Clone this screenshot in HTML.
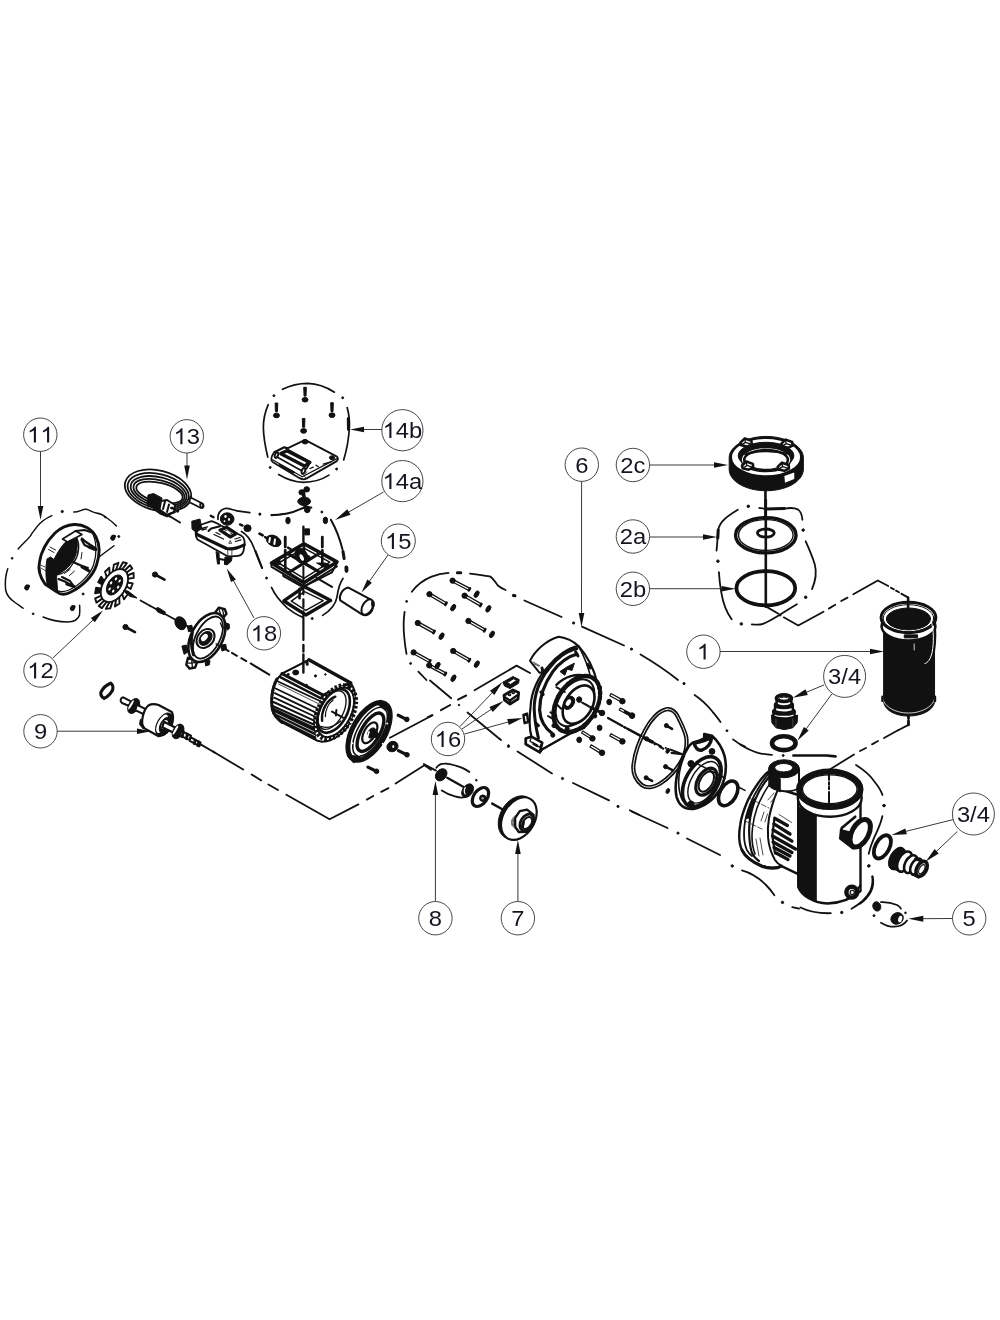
<!DOCTYPE html>
<html><head><meta charset="utf-8"><title>Pump exploded parts diagram</title>
<style>
html,body{margin:0;padding:0;background:#fff;}
body{width:1000px;height:1320px;overflow:hidden;font-family:"Liberation Sans",sans-serif;}
svg{display:block;will-change:transform;}
svg *{vector-effect:non-scaling-stroke;}
.ld{stroke:#222;stroke-width:0.9;fill:none;}
.ah{fill:#111;stroke:none;}
.lc{fill:#fff;stroke:#333;stroke-width:0.9;}
.lt{font-family:"Liberation Sans",sans-serif;fill:#15151f;text-anchor:start;}
.lg{fill:#15151f;stroke:none;}
.k{stroke:#111;fill:none;stroke-width:1.3;stroke-linecap:round;stroke-linejoin:round;}
.k2{stroke:#111;fill:none;stroke-width:2;stroke-linecap:round;stroke-linejoin:round;}
.k3{stroke:#111;fill:none;stroke-width:3;stroke-linecap:round;stroke-linejoin:round;}
.t{stroke:#222;fill:none;stroke-width:0.8;stroke-linecap:round;stroke-linejoin:round;}
.w{stroke:#111;fill:#fff;stroke-width:1.3;stroke-linejoin:round;}
.w2{stroke:#111;fill:#fff;stroke-width:2;stroke-linejoin:round;}
.b{fill:#111;stroke:#111;stroke-width:1;stroke-linejoin:round;}
.d{stroke:#111;fill:none;stroke-width:1.6;stroke-linecap:butt;}
.g{stroke:#666;fill:none;stroke-width:1;}
</style></head>
<body>
<svg width="1000" height="1320" viewBox="0 0 1000 1320">
<rect width="1000" height="1320" fill="#fff"/>
<!-- 09_rotor.py -->
<g transform="translate(95 670) scale(0.12000)"><path d="M130 110 C150 122 152 150 146 168 C128 200 100 225 76 236 C52 224 46 200 50 184 C66 150 100 122 130 110 Z" class="w" style="stroke-width:3.2"/><path d="M235 228 L300 262 L285 300 L225 275 C205 260 212 232 235 228 Z" class="w" style="stroke-width:2"/><ellipse cx="322" cy="300" rx="68" ry="42" transform="rotate(-60 322 300)" class="b" /><ellipse cx="300" cy="290" rx="44" ry="9" transform="rotate(-60 300 290)" class="w" style="stroke:none"/><ellipse cx="345" cy="310" rx="40" ry="22" transform="rotate(-60 345 310)" class="b" /><path d="M350 290 L440 335 L420 375 L335 335 Z" class="w" style="stroke-width:2"/><path d="M445 296 C470 282 505 284 530 292 L640 350 C665 400 640 470 600 520 L530 552 L405 482 C378 440 400 335 445 296 Z" class="w" style="stroke-width:2.2"/><path d="M385 420 L380 450 L405 480" class="k3" /><ellipse cx="578" cy="455" rx="105" ry="62" transform="rotate(-62 578 455)" class="b" /><ellipse cx="560" cy="448" rx="84" ry="36" transform="rotate(-62 560 448)" class="w" style="stroke:none"/><ellipse cx="585" cy="460" rx="72" ry="40" transform="rotate(-62 585 460)" class="b" /><ellipse cx="580" cy="455" rx="40" ry="22" transform="rotate(-62 580 455)" class="w" style="stroke:none"/><path d="M575 432 L680 485 L660 525 L560 478 Z" class="w" style="stroke-width:2.2"/><ellipse cx="692" cy="512" rx="66" ry="42" transform="rotate(-60 692 512)" class="b" /><ellipse cx="670" cy="502" rx="44" ry="9" transform="rotate(-60 670 502)" class="w" style="stroke:none"/><ellipse cx="712" cy="520" rx="38" ry="22" transform="rotate(-60 712 520)" class="b" /><path d="M715 505 L800 548 L790 585 L705 545 Z" class="w" style="stroke-width:2"/><path d="M735 520 L725 555 M770 535 L762 572" class="k3" style="stroke-width:3"/><path d="M795 560 L880 605 L870 635 L790 590 Z" class="w" style="stroke-width:2"/><path d="M835 585 L828 612 M865 600 L858 630" class="k3" style="stroke-width:3"/><path d="M880 620 L1000 690" class="k" style="stroke-width:1.8"/></g>
<!-- 10_fancover.py -->
<g transform="translate(30 515) scale(0.10000)"><path d="M440 95 C530 90 620 140 660 220 C700 300 700 400 665 500 C630 610 520 720 400 775 C350 798 300 795 270 770 L150 690 C100 620 80 540 95 470 C110 370 160 270 250 180 C310 125 380 98 440 95 Z" class="w2" style="stroke-width:2.9"/><path d="M350 275 L470 235 C480 300 470 380 440 440 C400 520 330 570 265 600 L275 755 L170 690 C155 600 155 520 170 440 L205 420 L240 445 C270 380 310 320 350 275 Z" class="b" /><path d="M325 240 L455 160 L520 195 L375 270 Z" class="w" style="stroke-width:1.6"/><path d="M455 160 L545 150 L620 175" class="k2" /><path d="M620 175 C670 260 670 400 635 500 C600 600 500 700 390 750 C340 770 300 770 275 755" class="k" /><path d="M470 235 C500 300 490 400 440 470 M440 470 C400 540 340 590 265 600" class="k" /><path d="M515 245 L545 300 L640 345 M520 235 L560 270 L650 330" class="k2" style="stroke-width:2.2"/><path d="M590 320 L660 345" class="k3" /><path d="M430 470 L500 500 L590 555 M470 490 L580 530" class="k2" /><path d="M520 520 L590 560" class="k3" /><path d="M285 640 L360 670 L440 715 M320 620 L400 660 L430 700" class="k2" /><path d="M370 690 L440 715" class="k3" style="stroke-width:3.4"/><path d="M185 345 L240 375 M200 320 L255 350 M480 350 L470 400 M520 375 L510 440 M345 585 L400 545 M395 605 L445 560" class="t" style="stroke-width:1"/><path d="M110 530 L160 560 M105 500 L150 520" class="t" /></g>
<!-- 11_phantom11.py -->
<g transform="translate(0 500) scale(0.12500)"><path d="M145 392 C170 360 215 325 245 285 C255 262 275 245 295 215 C325 175 370 145 415 125" class="k" style="stroke-width:1.5"/><path d="M590 96 C630 100 655 72 690 74 C720 80 740 100 770 104 C800 108 830 122 850 140 C880 160 905 180 932 208" class="k" style="stroke-width:1.5"/><path d="M800 450 L912 366" class="k" style="stroke-width:1.5"/><path d="M62 550 C45 600 38 660 45 720 C55 770 90 800 120 820 C145 838 165 850 185 866" class="k" style="stroke-width:1.5"/><path d="M345 936 C400 960 470 975 540 976 C590 975 625 960 636 920 C640 890 638 860 637 842" class="k" style="stroke-width:1.5"/><circle cx="498" cy="92" r="9" class="b"/><circle cx="97" cy="466" r="7" class="b"/><circle cx="265" cy="910" r="7" class="b"/><circle cx="665" cy="752" r="8" class="b"/><circle cx="950" cy="292" r="8" class="b"/><circle cx="843" cy="137" r="6" class="b"/><ellipse cx="215" cy="700" rx="17" ry="21" class="b" transform="rotate(20 215 700)"/><circle cx="229" cy="688" r="8" class="b"/><ellipse cx="580" cy="865" rx="17" ry="21" class="b" transform="rotate(20 580 865)"/><circle cx="594" cy="853" r="8" class="b"/><ellipse cx="903" cy="302" rx="17" ry="21" class="b" transform="rotate(20 903 302)"/><circle cx="917" cy="290" r="8" class="b"/></g>
<!-- 12_fan.py -->
<polygon points="124.4,570.8 130.1,565.2 132.3,568.5 126.2,572.8" class="w" style="stroke-width:1.9"/><polygon points="127.4,575.5 133.6,572.9 133.7,577.9 127.8,578.8" class="w" style="stroke-width:1.9"/><polygon points="127.4,582.5 132.7,583.4 130.6,589.0 126.3,586.3" class="w" style="stroke-width:1.9"/><polygon points="124.4,590.2 127.6,594.5 123.9,599.3 122.1,593.7" class="w" style="stroke-width:1.9"/><polygon points="119.2,596.8 119.5,603.5 114.9,606.5 116.1,599.3" class="w" style="stroke-width:1.9"/><polygon points="112.8,600.9 110.2,608.4 105.8,608.9 109.7,601.7" class="w" style="stroke-width:1.9"/><polygon points="106.8,601.5 101.9,608.1 98.7,606.0 104.4,600.4" class="w" style="stroke-width:1.9"/><polygon points="102.6,598.4 96.4,602.6 95.2,598.4 101.4,595.7" class="w" style="stroke-width:1.9"/><polygon points="101.0,592.4 95.1,593.3 96.1,587.8 101.4,588.7" class="b" style="stroke-width:1.9"/><polygon points="102.5,584.8 98.2,582.2 101.2,576.8 104.3,581.0" class="b" style="stroke-width:1.9"/><polygon points="106.8,577.4 105.0,571.8 109.3,567.7 109.6,574.4" class="w" style="stroke-width:1.9"/><polygon points="112.7,571.9 113.9,564.6 118.5,562.8 115.9,570.3" class="w" style="stroke-width:1.9"/><polygon points="119.1,569.5 123.0,562.3 126.9,563.1 121.9,569.7" class="w" style="stroke-width:1.9"/><ellipse cx="114.4" cy="585.6" rx="18.2" ry="11.2" transform="rotate(-57 114.4 585.6)" class="w2" style="stroke-width:1.8"/><ellipse cx="114.60000000000001" cy="585.0" rx="11.2" ry="6.6" transform="rotate(-57 114.60000000000001 585.0)" class="b" /><ellipse cx="119.6" cy="581.0" rx="1.7" ry="1.0" transform="rotate(-57 119.6 581.0)" fill="#fff"/><ellipse cx="118.1" cy="587.1" rx="1.7" ry="1.0" transform="rotate(-57 118.1 587.1)" fill="#fff"/><ellipse cx="113.2" cy="591.1" rx="1.7" ry="1.0" transform="rotate(-57 113.2 591.1)" fill="#fff"/><ellipse cx="109.6" cy="589.0" rx="1.7" ry="1.0" transform="rotate(-57 109.6 589.0)" fill="#fff"/><ellipse cx="111.1" cy="582.9" rx="1.7" ry="1.0" transform="rotate(-57 111.1 582.9)" fill="#fff"/><ellipse cx="116.0" cy="578.9" rx="1.7" ry="1.0" transform="rotate(-57 116.0 578.9)" fill="#fff"/><path d="M123.5 590.5 L128 591 L137 598 L130 596.5 Z" class="b" />
<!-- 13_cord.py -->
<g transform="translate(115 465) scale(0.10000)"><ellipse cx="430" cy="255" rx="338" ry="200" transform="rotate(14 430 255)" class="k" style="stroke-width:1.8"/><ellipse cx="432" cy="262" rx="312" ry="172" transform="rotate(14 432 262)" class="k" style="stroke-width:1.8"/><ellipse cx="436" cy="268" rx="286" ry="146" transform="rotate(14 436 268)" class="k" style="stroke-width:1.8"/><ellipse cx="440" cy="272" rx="262" ry="120" transform="rotate(14 440 272)" class="k" style="stroke-width:1.8"/><ellipse cx="445" cy="275" rx="238" ry="96" transform="rotate(14 445 275)" class="k" style="stroke-width:1.8"/><path d="M752 322 L870 382 C895 395 885 435 855 428 L745 372 Z" class="w" style="stroke-width:1.8"/><ellipse cx="868" cy="406" rx="14" ry="24" transform="rotate(-20 868 406)" class="k" style="stroke-width:1.8"/><path d="M330 300 L385 285 L470 330 L450 440 L395 440 L320 395 Z" class="b" /><path d="M460 360 L520 350 L600 400 L590 470 L520 500 L445 445 Z" class="w" style="stroke-width:2"/><path d="M500 365 L480 440 M540 395 L520 470 M560 430 L600 440 M520 500 L600 470" class="k2" /><path d="M430 440 L520 500 L560 520 L650 575" class="k2" /><path d="M395 440 L450 480 L520 510" class="k2" style="stroke-width:2.6"/><circle cx="625" cy="460" r="13" class="b"/><circle cx="570" cy="430" r="10" class="b"/></g>
<!-- 14a_box.py -->
<g transform="translate(255 470) scale(0.11000)"><ellipse cx="470" cy="176" rx="26" ry="24" class="b"/><ellipse cx="425" cy="203" rx="26" ry="24" class="b"/><ellipse cx="447" cy="285" rx="58" ry="38" class="b"/><ellipse cx="475" cy="358" rx="26" ry="30" class="b"/><path d="M440 200 L455 330" class="k3" style="stroke-width:3.5"/><path d="M150 410 C230 408 330 395 400 360 C430 342 470 338 512 342" class="k" style="stroke-width:2"/><circle cx="45" cy="402" r="9" class="b"/><circle cx="608" cy="382" r="9" class="b"/><ellipse cx="300" cy="460" rx="20" ry="30" class="b"/><ellipse cx="640" cy="458" rx="20" ry="30" class="b"/><path d="M690 452 C740 540 775 640 795 720" class="k" style="stroke-width:2"/><path d="M800 740 L810 805" class="k3" /><path d="M830 885 L832 915" class="k3" style="stroke-width:3.5"/><path d="M440 515 L440 650" class="k2" style="stroke-width:2.4"/><path d="M452 535 L495 535 L495 590 L452 590 Z" class="b" /><path d="M275 610 L275 700 M275 730 L275 765 M612 610 L612 700 M612 730 L612 765" class="k3" style="stroke-width:2.8"/><ellipse cx="178" cy="648" rx="62" ry="42" class="b" transform="rotate(28 178 648)"/><path d="M150 625 L143 660 M195 640 L190 680" class="k" style="stroke:#fff;stroke-width:2"/><path d="M40 580 L70 596 M92 610 L110 620 M300 706 L326 720" class="k2" style="stroke-width:2.4"/><path d="M5 735 L65 890" class="k" style="stroke-width:1.8"/></g>
<g transform="translate(255 530) scale(0.11000)"><path d="M150 300 L150 335 L440 505 L470 500 L700 385 L745 300 L745 290 L445 125 Z" class="w" style="stroke-width:2"/><path d="M445 480 L440 505 M470 500 L745 330 M255 395 L258 420 L420 510" class="k2" /><path d="M445 125 L745 290 L445 480 L150 300 Z" class="k3" style="stroke-width:3.6"/><path d="M445 165 L680 292 L445 440 L215 300 Z" class="k" style="stroke-width:1.6"/><path d="M300 215 L590 385 M590 210 L300 390" class="k3" style="stroke-width:3"/><path d="M370 255 L520 345 M520 250 L370 350" class="k2" /><path d="M445 125 L445 200 M275 230 L275 360 M612 230 L612 330" class="k3" style="stroke-width:2.6"/><ellipse cx="420" cy="235" rx="55" ry="70" class="b" transform="rotate(-25 420 235)"/><ellipse cx="425" cy="250" rx="16" ry="32" fill="#fff" transform="rotate(-25 425 250)"/><path d="M470 225 L500 240 L495 275 L465 270 Z" class="b" /><path d="M560 300 L640 300 L700 330 L640 345 Z" class="b" /><path d="M165 290 L225 270 L230 310 L185 320 Z" class="b" /><path d="M560 435 L700 517" class="k2" /><path d="M440 330 L440 470" class="k2" /><path d="M450 515 L688 640 L462 772 L262 645 Z" class="w" style="stroke-width:3.4"/><path d="M450 560 L620 642 L462 730 L330 646 Z" class="k" style="stroke-width:1.4"/><path d="M440 540 L440 585 M440 630 L440 700 M440 740 L440 1000" class="k2" style="stroke-width:2.2"/><path d="M405 535 L405 620" class="k3" style="stroke-width:2.6"/><path d="M150 522 C180 590 230 650 290 705 C340 745 390 775 432 792" class="k" style="stroke-width:1.7"/><path d="M800 440 C770 480 755 540 745 610 C735 670 705 720 615 776" class="k" style="stroke-width:1.7"/><circle cx="520" cy="805" r="9" class="b"/><circle cx="105" cy="437" r="9" class="b"/><path d="M832 340 L832 372" class="k3" style="stroke-width:3.5"/></g>
<!-- 14b_lid.py -->
<g transform="translate(255 375) scale(0.11000)"><path d="M250 130 C320 95 400 76 480 76 C560 78 650 110 722 156" class="k" style="stroke-width:1.7"/><path d="M120 270 C90 340 75 410 76 480 C78 570 95 660 116 746" class="k" style="stroke-width:1.7"/><path d="M838 296 C855 360 862 420 858 480 C852 580 835 680 806 772" class="k" style="stroke-width:1.7"/><path d="M215 905 C290 950 370 975 440 976 C520 975 610 950 672 910" class="k" style="stroke-width:1.7"/><path d="M848 395 L850 495" class="k3" /><circle cx="172" cy="188" r="9" class="b"/><circle cx="797" cy="207" r="9" class="b"/><circle cx="138" cy="840" r="9" class="b"/><circle cx="742" cy="855" r="9" class="b"/><path d="M443 112 L467 112 L464 192 L446 192 Z" class="b" /><ellipse cx="455" cy="225" rx="27" ry="21" class="b"/><path d="M183 255 L207 255 L204 335 L186 335 Z" class="b" /><ellipse cx="195" cy="368" rx="27" ry="21" class="b"/><path d="M688 252 L712 252 L709 332 L691 332 Z" class="b" /><ellipse cx="700" cy="365" rx="27" ry="21" class="b"/><path d="M430 395 L454 395 L451 475 L433 475 Z" class="b" /><ellipse cx="442" cy="508" rx="27" ry="21" class="b"/><path d="M455 590 L745 742 C760 755 755 775 740 785 L470 940 C450 952 430 950 410 940 L160 790 C140 775 145 745 175 700 L265 655 L300 665 Z" class="w" style="stroke-width:1.8"/><path d="M160 770 L430 925 L745 760" class="k" /><ellipse cx="455" cy="607" rx="26" ry="20" class="b"/><ellipse cx="700" cy="752" rx="24" ry="17" class="b"/><path d="M185 700 L268 660 L505 790 L470 850 L440 880 L200 745 Z" class="w" style="stroke-width:1.6"/><path d="M235 715 L290 688 L498 795 L450 828 Z" class="w" style="stroke-width:3.4"/><ellipse cx="195" cy="728" rx="14" ry="26" transform="rotate(20 195 728)" class="w" style="stroke-width:2"/><ellipse cx="440" cy="872" rx="15" ry="28" transform="rotate(20 440 872)" class="w" style="stroke-width:2"/><path d="M225 820 L350 885" class="k2" style="stroke-width:2.4"/><path d="M500 850 L530 838 M555 820 L575 835 M620 810 L690 790" class="k" /><path d="M440 905 L460 935 M470 880 L455 905" class="t" /></g>
<!-- 15_cap.py -->
<g transform="translate(330 560) scale(0.08000)"><path d="M230 345 L505 492 C560 530 545 640 480 680 C450 695 420 690 400 680 L128 505 C110 450 150 360 230 345 Z" class="w" style="stroke-width:2"/><ellipse cx="468" cy="588" rx="105" ry="62" transform="rotate(-60 468 588)" class="w" style="stroke-width:2"/><path d="M535 530 L538 570" class="k3" style="stroke-width:3.5"/></g>
<!-- 18_controller.py -->
<g transform="translate(185 495) scale(0.10000)"><path d="M330 245 C325 190 350 150 400 135 C440 128 470 150 520 158 L648 176" class="k" style="stroke-width:1.7"/><ellipse cx="422" cy="240" rx="68" ry="62" class="b"/><ellipse cx="405" cy="215" rx="12" ry="14" fill="#fff"/><ellipse cx="440" cy="245" rx="10" ry="14" fill="#fff"/><ellipse cx="395" cy="262" rx="9" ry="9" fill="#fff"/><path d="M150 300 L265 262 C300 270 320 285 350 300 L560 405 C590 420 598 450 596 490 L585 560 C575 600 545 612 500 612 L430 615 L125 445 C108 420 105 390 108 365 Z" class="w" style="stroke-width:1.8"/><path d="M68 262 L150 240 L168 338 L110 372 L70 340 Z" class="b" /><path d="M115 392 L415 535 C470 545 540 525 592 498" class="k3" style="stroke-width:3.2"/><path d="M150 300 C135 320 125 350 118 380" class="k" /><path d="M425 540 L430 612 M470 535 L468 600" class="t" /><path d="M350 352 L418 322 L512 386 L452 420 Z" class="w" style="stroke-width:3.2"/><path d="M395 362 L425 350 L470 382 L445 395 Z" class="t" /><path d="M235 360 L262 335 L350 312" class="k2" /><path d="M165 335 L225 318 M170 350 L215 338 M290 395 L385 440 M310 375 L350 395 M500 440 L550 425 M505 465 L560 448" class="k" /><path d="M440 480 L452 455 L465 480 Z" class="t" /><path d="M310 565 L340 580 L345 690 L325 690 Z M400 620 L470 625 L465 660 L420 700 L395 690 Z" class="b" /><path d="M345 640 L400 650 L400 690" class="k2" /><ellipse cx="625" cy="332" rx="36" ry="34" class="b"/><ellipse cx="885" cy="458" rx="75" ry="52" class="b" transform="rotate(25 885 458)"/><path d="M850 430 L842 470 M900 445 L893 490" class="k" style="stroke:#fff;stroke-width:2"/><path d="M258 207 L285 222 M550 294 L575 306 M748 387 L775 400" class="k2" style="stroke-width:2.4"/><circle cx="748" cy="190" r="9" class="b"/><path d="M865 205 L1000 188" class="k" style="stroke-width:1.7"/><path d="M565 365 C630 400 660 450 690 530 C715 600 745 670 770 732" class="k" style="stroke-width:1.7"/></g>
<!-- 20_endbell.py -->
<g transform="translate(150 590) scale(0.11000)"><path d="M0 143 L240 275" class="k" style="stroke-width:1.8"/><path d="M50 168 L75 160 L140 200 L130 225 L70 200 Z" class="b" /><ellipse cx="278" cy="302" rx="48" ry="62" transform="rotate(-30 278 302)" class="b" /><path d="M320 320 L355 335" class="k2" /><path d="M585 215 L625 160 L680 175 L695 215 L660 260 Z" class="w" style="stroke-width:2.4"/><path d="M625 165 L645 235 M660 180 L670 230" class="k" /><path d="M345 615 L330 680 L360 715 L410 705 L430 650 Z" class="w" style="stroke-width:2.4"/><path d="M350 665 L415 660 M380 640 L385 700" class="k" /><path d="M690 300 L720 310 L722 350 L700 365 Z M640 500 L690 495 L695 540 L655 555 Z M290 510 L330 500 L350 560 L310 585 Z M500 640 L545 640 L540 680 L505 690 Z M340 330 L380 320 L390 370 L350 380 Z" class="b" /><ellipse cx="517" cy="432" rx="240" ry="142" transform="rotate(-62 517 432)" class="w2" style="stroke-width:2.6"/><ellipse cx="527" cy="432" rx="208" ry="108" transform="rotate(-62 527 432)" class="k" style="stroke-width:1.8"/><path d="M385 390 C372 440 375 520 395 590" class="k2" style="stroke-width:3"/><ellipse cx="505" cy="440" rx="95" ry="72" transform="rotate(-50 505 440)" class="w" style="stroke-width:2"/><ellipse cx="505" cy="440" rx="72" ry="50" transform="rotate(-50 505 440)" class="b" /><ellipse cx="495" cy="432" rx="38" ry="24" transform="rotate(-50 495 432)" class="w" style="stroke:none"/><path d="M600 490 L660 520 M640 300 L660 350 L690 340" class="k" /><path d="M690 540 L715 555 M745 572 L790 598 M830 620 L875 646 M915 668 L1084 770" class="k2" style="stroke-width:2"/></g>
<!-- 30_motor.py -->
<g transform="translate(255 645) scale(0.11000)"><path d="M245 260 L490 135 L870 345 C910 400 920 470 905 560 C890 660 850 750 790 800 C730 850 670 880 610 880 L560 868 L250 705 C190 660 160 620 155 560 C145 480 160 380 200 310 Z" class="w" style="stroke-width:2"/><path d="M158 570 L538 748 L556 866 L250 705 C200 670 165 630 158 570 Z" class="b" /><path d="M170 612 L540 790 M190 650 L545 825" class="k" style="stroke:#fff;stroke-width:0.7"/><path d="M205 330 L605 515" class="k" style="stroke-width:1.6"/><path d="M188 395 L572 580" class="k" style="stroke-width:1.8"/><path d="M180 437 L558 617" class="k" style="stroke-width:1.8"/><path d="M174 478 L548 652" class="k" style="stroke-width:1.8"/><path d="M168 518 L542 690" class="k" style="stroke-width:2.0"/><path d="M165 556 L538 726" class="k" style="stroke-width:2.2"/><path d="M215 355 L590 540" class="t" /><path d="M200 310 C160 380 145 480 155 560 C160 620 190 660 250 705" class="k" style="stroke-width:3.2;stroke-dasharray:2.2 1.6"/><path d="M245 260 L620 455 L870 345" class="k3" style="stroke-width:3"/><path d="M490 135 L870 345" class="k3" style="stroke-width:3.4"/><path d="M245 260 L490 135" class="k" style="stroke-width:1.6"/><path d="M225 290 L600 485 L620 455" class="k2" style="stroke-width:2.4"/><ellipse cx="370" cy="250" rx="27" ry="22" class="b"/><circle cx="550" cy="281" r="10" class="b"/><circle cx="302" cy="268" r="10" class="b"/><circle cx="640" cy="268" r="7" class="b"/><circle cx="470" cy="365" r="8" class="b"/><path d="M440 0 L440 60 M440 85 L440 250" class="k2" style="stroke-width:2.4"/><path d="M470 150 L475 175" class="k3" /><ellipse cx="732" cy="612" rx="260" ry="154" transform="rotate(-62 732 612)" class="w" style="stroke-width:5;stroke-dasharray:2.4 1.8"/><ellipse cx="732" cy="612" rx="244" ry="140" transform="rotate(-62 732 612)" class="k" style="stroke-width:2"/><ellipse cx="715" cy="600" rx="215" ry="122" transform="rotate(-62 715 600)" class="k" style="stroke-width:2.6"/><ellipse cx="700" cy="592" rx="190" ry="104" transform="rotate(-62 700 592)" class="k" style="stroke-width:1.4"/><path d="M610 690 C600 600 650 500 730 470" class="k2" style="stroke-width:2.4"/><path d="M640 650 C640 590 670 530 710 500" class="k" /><path d="M700 605 L800 660 M740 590 L735 640" class="k2" /><path d="M600 740 C650 760 720 740 780 690" class="k" /></g>
<!-- 31_flange.py -->
<g transform="translate(330 680) scale(0.11000)"><ellipse cx="355" cy="467" rx="290" ry="146" transform="rotate(-60 355 467)" class="w" style="stroke-width:5"/><ellipse cx="364" cy="470" rx="248" ry="112" transform="rotate(-60 364 470)" class="k" style="stroke-width:1.6"/><ellipse cx="368" cy="475" rx="195" ry="84" transform="rotate(-60 368 475)" class="k" style="stroke-width:3.4"/><path d="M425 212 L458 184 L522 214 L538 262 L500 275 Z" class="b" /><path d="M158 688 L212 752 L292 722 L250 690 Z" class="b" /><circle cx="190" cy="385" r="9" fill="#fff"/><circle cx="480" cy="280" r="9" fill="#fff"/><circle cx="520" cy="395" r="9" fill="#fff"/><circle cx="480" cy="580" r="9" fill="#fff"/><circle cx="265" cy="680" r="9" fill="#fff"/><circle cx="205" cy="575" r="9" fill="#fff"/><ellipse cx="362" cy="480" rx="105" ry="52" transform="rotate(-60 362 480)" class="w" style="stroke-width:2.2"/><ellipse cx="380" cy="482" rx="50" ry="34" transform="rotate(-60 380 482)" class="b" /><ellipse cx="420" cy="500" rx="26" ry="22" transform="rotate(-60 420 500)" class="b" /><path d="M355 470 L340 520" class="k" style="stroke:#fff;stroke-width:1.6"/><path d="M545 525 L932 320" class="k" style="stroke-width:1.8"/><path d="M620 320 L700 360" class="k3" style="stroke-width:3.2;stroke-linecap:round"/><circle cx="698" cy="358" r="21" class="b"/><path d="M622 642 L702 682" class="k3" style="stroke-width:3.2;stroke-linecap:round"/><circle cx="700" cy="680" r="21" class="b"/><path d="M345 792 L425 832" class="k3" style="stroke-width:3.2;stroke-linecap:round"/><circle cx="423" cy="830" r="21" class="b"/><ellipse cx="568" cy="605" rx="52" ry="46" transform="rotate(-30 568 605)" class="b" /><ellipse cx="575" cy="605" rx="9" ry="14" fill="#fff"/></g>
<!-- 40_bolts6.py -->
<g transform="translate(395 560) scale(0.12000)"><path d="M475 181 L615 254 L625 236 L485 163 Z" class="w" style="stroke-width:1.3"/><circle cx="480" cy="172" r="22" class="b"/><path d="M615 254 L625 236" class="k3" style="stroke-width:2.6"/><path d="M282 294 L420 374 L430 356 L292 276 Z" class="w" style="stroke-width:1.3"/><circle cx="287" cy="285" r="22" class="b"/><path d="M420 374 L430 356" class="k3" style="stroke-width:2.6"/><path d="M575 306 L710 384 L720 366 L585 288 Z" class="w" style="stroke-width:1.3"/><circle cx="580" cy="297" r="22" class="b"/><path d="M710 384 L720 366" class="k3" style="stroke-width:2.6"/><path d="M185 534 L320 609 L330 591 L195 516 Z" class="w" style="stroke-width:1.3"/><circle cx="190" cy="525" r="22" class="b"/><path d="M320 609 L330 591" class="k3" style="stroke-width:2.6"/><path d="M607 517 L743 594 L753 576 L617 499 Z" class="w" style="stroke-width:1.3"/><circle cx="612" cy="508" r="22" class="b"/><path d="M743 594 L753 576" class="k3" style="stroke-width:2.6"/><path d="M150 779 L285 854 L295 836 L160 761 Z" class="w" style="stroke-width:1.3"/><circle cx="155" cy="770" r="22" class="b"/><path d="M285 854 L295 836" class="k3" style="stroke-width:2.6"/><path d="M280 887 L415 959 L425 941 L290 869 Z" class="w" style="stroke-width:1.3"/><circle cx="285" cy="878" r="22" class="b"/><path d="M415 959 L425 941" class="k3" style="stroke-width:2.6"/><path d="M480 767 L615 844 L625 826 L490 749 Z" class="w" style="stroke-width:1.3"/><circle cx="485" cy="758" r="22" class="b"/><path d="M615 844 L625 826" class="k3" style="stroke-width:2.6"/><ellipse cx="680" cy="285" rx="30" ry="17" transform="rotate(-60 680 285)" class="b" /><ellipse cx="485" cy="397" rx="30" ry="17" transform="rotate(-60 485 397)" class="b" /><ellipse cx="778" cy="407" rx="30" ry="17" transform="rotate(-60 778 407)" class="b" /><ellipse cx="388" cy="635" rx="30" ry="17" transform="rotate(-60 388 635)" class="b" /><ellipse cx="808" cy="620" rx="30" ry="17" transform="rotate(-60 808 620)" class="b" /><ellipse cx="355" cy="880" rx="30" ry="17" transform="rotate(-60 355 880)" class="b" /><ellipse cx="487" cy="985" rx="30" ry="17" transform="rotate(-60 487 985)" class="b" /><ellipse cx="682" cy="868" rx="30" ry="17" transform="rotate(-60 682 868)" class="b" /><path d="M140 264 C180 210 240 165 300 140 C350 120 400 110 446 108" class="k" style="stroke-width:1.8"/><path d="M520 106 L548 106" class="k3" style="stroke-width:3"/><path d="M625 113 C680 120 740 128 790 136 C820 150 835 190 860 215 C880 232 900 242 922 250" class="k" style="stroke-width:1.8"/><path d="M80 433 C70 500 70 580 78 650 C82 700 88 740 96 783" class="k" style="stroke-width:1.8"/><path d="M195 930 L262 1000" class="k" style="stroke-width:1.8"/><circle cx="97" cy="345" r="8" class="b"/><circle cx="130" cy="862" r="8" class="b"/><path d="M990 296 L1000 298" class="k3" /></g>
<!-- 41_sealhousing.py -->
<g transform="translate(500 620) scale(0.12000)"><path d="M250 340 C290 260 380 170 490 140 C560 150 620 185 655 218 L420 420 L330 440 Z" class="w" style="stroke-width:2"/><path d="M275 350 L330 380 M285 365 L325 388" class="t" /><path d="M655 218 C720 290 780 400 810 520 C840 640 800 800 700 900 L575 952 L352 1078 L332 1103 L215 1035 L215 988 L262 972 C242 900 245 800 255 720 C260 600 320 470 400 390 C470 300 570 230 655 218 Z" class="w" style="stroke-width:2.2"/><path d="M215 988 L262 972 L352 1022 L332 1103 L215 1035 Z" class="w" style="stroke-width:2.6"/><path d="M332 1103 L352 1078 L575 950" class="k" style="stroke-width:1.8"/><path d="M262 972 L250 1010 L330 1060 L352 1022 M270 1020 L315 1045 M275 1035 L310 1055" class="k" /><path d="M640 240 C560 250 470 320 410 400 C330 500 285 620 285 740 C288 840 300 900 320 985" class="k3" style="stroke-width:3"/><path d="M640 285 C570 300 490 360 440 430 C370 530 330 640 330 750 C335 830 370 900 440 950" class="k3" style="stroke-width:3.2"/><path d="M400 430 C470 330 540 280 600 262" class="t" /><path d="M655 218 C700 300 740 400 760 500" class="k" style="stroke-width:1.6"/><path d="M730 370 L750 400 M630 265 L650 300" class="k3" /><path d="M350 400 L360 440 M340 600 L360 620 M300 860 L320 880" class="k3" /><path d="M500 430 L560 390 L620 360 L600 420 L560 410 L540 460 Z" class="b" /><ellipse cx="640" cy="700" rx="255" ry="165" transform="rotate(-58 640 700)" class="w" style="stroke-width:2.8"/><ellipse cx="640" cy="700" rx="255" ry="165" transform="rotate(-58 640 700)" class="k" style="stroke-width:4.4;stroke-dasharray:3 2.2;stroke:#111"/><ellipse cx="625" cy="690" rx="215" ry="135" transform="rotate(-58 625 690)" class="k" style="stroke-width:2"/><ellipse cx="655" cy="705" rx="175" ry="112" transform="rotate(-58 655 705)" class="w" style="stroke-width:2.6"/><path d="M470 540 C540 470 640 440 720 470" class="k2" style="stroke-width:2.4"/><path d="M470 560 L540 600 M420 770 L470 800 M470 700 L510 740 M400 800 L450 830" class="k2" /><ellipse cx="575" cy="690" rx="60" ry="42" transform="rotate(-58 575 690)" class="b" /><ellipse cx="570" cy="688" rx="30" ry="18" transform="rotate(-58 570 688)" class="w" style="stroke:none"/><circle cx="660" cy="662" r="20" class="b"/><circle cx="830" cy="565" r="17" class="b"/><circle cx="560" cy="905" r="17" class="b"/><circle cx="450" cy="880" r="17" class="b"/><circle cx="790" cy="800" r="17" class="b"/><circle cx="440" cy="960" r="17" class="b"/><path d="M195 790 L225 780 L235 850 L205 860 Z" class="w" style="stroke-width:2.4"/></g>
<g transform="translate(560 640) scale(0.12000)"><path d="M415 464 L515 519 L525 501 L425 446 Z" class="w" style="stroke-width:1.2"/><circle cx="520" cy="510" r="23" class="b"/><path d="M493 584 L595 639 L605 621 L503 566 Z" class="w" style="stroke-width:1.2"/><circle cx="600" cy="630" r="23" class="b"/><path d="M415 799 L515 854 L525 836 L425 781 Z" class="w" style="stroke-width:1.2"/><circle cx="520" cy="845" r="23" class="b"/><path d="M250 891 L345 949 L355 931 L260 873 Z" class="w" style="stroke-width:1.2"/><circle cx="350" cy="940" r="23" class="b"/><path d="M180 775 L265 828 L275 812 L190 759 Z" class="w" style="stroke-width:1.2"/><circle cx="270" cy="820" r="23" class="b"/><path d="M255 562 L350 608" class="k3" style="stroke-width:3"/><circle cx="350" cy="608" r="23" class="b"/><ellipse cx="410" cy="517" rx="20" ry="23" class="b"/><ellipse cx="330" cy="732" rx="20" ry="23" class="b"/><ellipse cx="160" cy="832" rx="20" ry="23" class="b"/><ellipse cx="160" cy="497" rx="20" ry="23" class="b"/><path d="M185 522 L240 552 M400 650 L520 716 M562 740 L760 850 M830 888 L860 905 M930 940 L1000 950" class="k2" style="stroke-width:2.2"/><circle cx="540" cy="728" r="7" class="b"/><circle cx="790" cy="868" r="7" class="b"/><path d="M700 815 L770 850" class="k3" style="stroke-width:3.4"/></g>
<!-- 42_conn16.py -->
<g transform="translate(430 650) scale(0.10000)"><path d="M728 322 L830 265 L892 296 L886 332 L800 386 L745 360 Z" class="b" /><path d="M772 326 L836 288 L868 302 L806 344 Z" class="w" style="stroke-width:1"/><path d="M740 452 L830 400 L886 426 L880 490 L800 540 L745 502 Z" class="w" style="stroke-width:2.8"/><path d="M745 470 L800 505 L884 445 M800 505 L800 540" class="k2" style="stroke-width:2.2"/><ellipse cx="795" cy="448" rx="12" ry="9" class="k"/><ellipse cx="832" cy="428" rx="12" ry="9" class="k"/><path d="M445 402 L866 156 L1000 230" class="k" style="stroke-width:1.8"/><path d="M280 496 L362 455 M110 602 L202 550 M-20 672 L22 652" class="k2" style="stroke-width:2"/><circle cx="290" cy="550" r="8" class="b"/><circle cx="785" cy="955" r="8" class="b"/><path d="M0 305 L212 482 M375 625 L697 890" class="k" style="stroke-width:1.8"/></g>
<!-- 50_seal_impeller.py -->
<g transform="translate(425 755) scale(0.12000)"><path d="M-10 75 L92 130" class="k" style="stroke-width:1.8"/><path d="M95 106 C110 85 130 72 160 72 C200 70 230 80 255 88 C300 100 340 118 370 142" class="k" style="stroke-width:1.8"/><path d="M140 295 C170 315 210 335 250 345 C290 358 325 362 352 340" class="k" style="stroke-width:1.8"/><ellipse cx="135" cy="165" rx="56" ry="42" transform="rotate(-50 135 165)" class="b" /><path d="M185 190 L322 266" class="k2" style="stroke-width:2.2"/><ellipse cx="355" cy="297" rx="62" ry="42" transform="rotate(-55 355 297)" class="b" /><path d="M335 270 C325 290 325 310 335 325" class="k" style="stroke:#fff;stroke-width:1.2"/><circle cx="428" cy="210" r="7" class="b"/><ellipse cx="462" cy="350" rx="88" ry="56" transform="rotate(-55 462 350)" class="w" style="stroke-width:3.2"/><circle cx="482" cy="360" r="27" class="b"/><circle cx="480" cy="360" r="10" fill="#999"/><path d="M560 405 L660 460" class="k2" style="stroke-width:2.4"/><ellipse cx="762" cy="520" rx="192" ry="136" transform="rotate(-60 762 520)" class="b" /><ellipse cx="782" cy="530" rx="190" ry="132" transform="rotate(-60 782 530)" class="w" style="stroke-width:2.2"/><path d="M750 525 L790 468 L850 455 L905 500 L902 580 L845 640 L782 642 L752 600 Z" class="w" style="stroke-width:2.4"/><ellipse cx="848" cy="562" rx="75" ry="50" transform="rotate(-58 848 562)" class="w" style="stroke-width:2.6"/><ellipse cx="852" cy="566" rx="55" ry="34" transform="rotate(-58 852 566)" class="k" style="stroke-width:2"/><path d="M820 560 L812 600" class="k3" style="stroke-width:3"/><path d="M735 520 C725 550 725 580 735 600 M745 505 C733 545 733 585 745 612 M725 535 C718 555 718 575 725 590" class="g" /></g>
<!-- 60_gasket_plate.py -->
<g transform="translate(625 695) scale(0.12000)"><path d="M350 118 C385 115 420 140 440 180 C470 240 500 300 510 350 C520 420 505 480 480 530 C440 610 370 690 290 740 C240 770 180 780 140 750 C90 710 65 650 70 590 C80 490 120 380 170 290 C210 210 280 130 350 118 Z" class="k" style="stroke-width:4.2"/><path d="M350 118 C385 115 420 140 440 180 C470 240 500 300 510 350 C520 420 505 480 480 530 C440 610 370 690 290 740 C240 770 180 780 140 750 C90 710 65 650 70 590 C80 490 120 380 170 290 C210 210 280 130 350 118 Z" class="k" style="stroke:#fff;stroke-width:0.9"/><path d="M345 255 L392 282" class="k3" style="stroke-width:2.6"/><circle cx="345" cy="255" r="17" class="b"/><path d="M180 365 L222 388" class="k3" style="stroke-width:2.6"/><circle cx="180" cy="365" r="17" class="b"/><path d="M338 597 L400 628" class="k3" style="stroke-width:2.6"/><circle cx="338" cy="597" r="17" class="b"/><path d="M176 690 L226 716" class="k3" style="stroke-width:2.6"/><circle cx="176" cy="690" r="17" class="b"/><path d="M0 140 L60 172" class="k3" style="stroke-width:2.6"/><circle cx="60" cy="174" r="20" class="b"/><ellipse cx="357" cy="465" rx="14" ry="22" transform="rotate(25 357 465)" class="b" /><ellipse cx="357" cy="800" rx="14" ry="22" transform="rotate(25 357 800)" class="b" /><path d="M-10 266 L140 342 M232 392 L300 428 M380 455 L472 492" class="k2" style="stroke-width:2"/><circle cx="340" cy="442" r="6" class="b"/><path d="M560 400 C600 385 640 375 660 360 L660 325 L725 340 C770 380 810 440 830 510 C850 600 840 700 790 790 C740 870 660 930 570 950 C500 955 450 920 430 850 C410 760 430 650 470 540 C490 480 520 430 560 400 Z" class="w" style="stroke-width:2.6"/><path d="M540 420 C500 480 470 560 455 640 C440 730 450 820 480 880" class="k" style="stroke-width:1.6"/><path d="M575 402 C620 392 680 378 722 348 C720 400 690 440 640 460 C610 465 590 450 575 402 Z" class="w" style="stroke-width:3.4"/><path d="M660 325 L725 340 L722 380 L665 365 Z" class="b" /><ellipse cx="640" cy="722" rx="228" ry="132" transform="rotate(-60 640 722)" class="k" style="stroke-width:3.6"/><ellipse cx="655" cy="728" rx="190" ry="105" transform="rotate(-60 655 728)" class="k" style="stroke-width:1.4"/><ellipse cx="678" cy="722" rx="122" ry="74" transform="rotate(-60 678 722)" class="w" style="stroke-width:3.2"/><ellipse cx="678" cy="722" rx="92" ry="52" transform="rotate(-60 678 722)" class="k" style="stroke-width:2"/><circle cx="725" cy="470" r="24" class="b"/><circle cx="550" cy="572" r="26" class="b"/><circle cx="550" cy="910" r="26" class="b"/><path d="M600 572 L832 692" class="k" style="stroke-width:1.6"/><ellipse cx="860" cy="820" rx="112" ry="68" transform="rotate(-60 860 820)" class="w" style="stroke-width:3.6"/><path d="M940 765 L1000 795" class="k" style="stroke-width:1.6"/><path d="M580 0 C640 40 690 90 730 140 C760 175 780 200 796 226" class="k" style="stroke-width:1.8"/><circle cx="850" cy="298" r="8" class="b"/><path d="M900 370 C930 395 965 415 1000 430" class="k" style="stroke-width:1.8"/><path d="M40 960 L122 1000" class="k" style="stroke-width:1.8"/></g>
<!-- 70_pumpbody.py -->
<g transform="translate(730 750) scale(0.15000)"><path d="M253 147 C215 175 150 270 120 333 C95 390 75 440 68 500 C58 560 62 630 80 667 C100 710 160 750 213 773 C250 787 310 792 340 773 L455 827 L455 300 L330 260 Z" class="w" style="stroke-width:2.4"/><path d="M257 160 C225 190 165 290 140 347 C118 400 100 450 96 510 C90 570 96 630 113 667 C122 685 135 698 147 707" class="k" style="stroke-width:1.8"/><path d="M260 180 C225 220 185 290 167 333 C148 385 135 430 130 490 C124 550 130 640 147 687 C158 712 175 728 193 740" class="k" style="stroke-width:2.2"/><path d="M267 227 C245 250 200 330 180 387 C165 430 155 470 150 520 C143 580 150 650 167 693" class="k" style="stroke-width:1.6"/><path d="M320 267 C300 300 270 400 260 453 C252 500 250 540 254 585 C258 630 275 690 300 733 C312 752 328 765 347 773" class="k" style="stroke-width:2"/><path d="M80 667 C100 710 160 752 213 775 C250 790 310 795 340 775" class="k3" style="stroke-width:3"/><path d="M125 455 L105 455 L150 330 L172 322 Z" class="b" /><path d="M127 320 L260 387 M100 473 L213 527" class="t" style="stroke-dasharray:5 2"/><path d="M253 333 L293 287 M273 347 L310 300 M207 473 L227 413 M233 480 L250 427 M173 593 L193 707 M200 587 L220 700" class="t" /><path d="M327 430 L410 483" class="t" /><path d="M300 457 L383 503" class="k3" style="stroke-width:3.3;stroke-linecap:round"/><path d="M293 493 L400 560" class="k3" style="stroke-width:3.3;stroke-linecap:round"/><path d="M287 533 L413 607" class="k3" style="stroke-width:3.3;stroke-linecap:round"/><path d="M283 573 L437 660" class="k3" style="stroke-width:3.3;stroke-linecap:round"/><path d="M287 613 L413 683" class="k3" style="stroke-width:3.3;stroke-linecap:round"/><path d="M293 650 L400 707" class="k3" style="stroke-width:3.3;stroke-linecap:round"/><path d="M307 687 L387 730" class="k3" style="stroke-width:3.3;stroke-linecap:round"/><path d="M297 450 L282 570 L300 690" class="k2" style="stroke-width:2.2"/><path d="M262 130 L262 235 C290 275 400 290 460 255 L460 130 Z" class="w" style="stroke-width:2"/><path d="M262 130 L262 240 L335 280 L335 190 Z" class="b" /><ellipse cx="360" cy="125" rx="103" ry="60" transform="rotate(0 360 125)" class="b" /><ellipse cx="358" cy="118" rx="60" ry="28" transform="rotate(0 358 118)" class="w" style="stroke-width:1"/><path d="M455 300 L455 913 C480 975 560 1020 650 1023 C740 1020 820 985 870 940 L870 300 Z" class="w" style="stroke-width:2.4"/><path d="M455 380 L575 420 L575 1008 C520 990 475 960 455 913 Z" class="b" /><ellipse cx="665" cy="320" rx="213" ry="125" transform="rotate(0 665 320)" class="w" style="stroke-width:2.4"/><ellipse cx="665" cy="262" rx="205" ry="118" transform="rotate(0 665 262)" class="w" style="stroke-width:6"/><ellipse cx="665" cy="262" rx="182" ry="96" transform="rotate(0 665 262)" class="k" style="stroke-width:1.4"/><path d="M660 160 L660 200 M660 215 L660 232 M660 245 L660 262 M660 280 L660 350" class="k2" style="stroke-width:2"/><path d="M740 500 L830 440 L930 500 L900 640 L820 660 L730 590 Z" class="w" style="stroke:none"/><path d="M745 520 L835 445 M820 655 L735 590 L745 520" class="k2" style="stroke-width:2.6"/><path d="M735 530 L800 545 L815 650 L735 592 Z" class="b" /><ellipse cx="868" cy="555" rx="100" ry="56" transform="rotate(-62 868 555)" class="w" style="stroke-width:5"/><circle cx="812" cy="948" r="36" class="w" style="stroke-width:4.5"/><circle cx="815" cy="950" r="14" class="k"/><path d="M850 930 L870 900" class="k2" /><circle cx="15" cy="773" r="8" class="b"/><circle cx="350" cy="1016" r="8" class="b"/><circle cx="745" cy="1083" r="8" class="b"/><circle cx="925" cy="773" r="8" class="b"/><path d="M80 803 C140 820 200 860 240 900 C265 925 280 945 296 968" class="k" style="stroke-width:1.8"/><path d="M415 1048 L460 1058 M470 1050 C520 1075 600 1090 672 1088" class="k" style="stroke-width:1.8"/><path d="M810 1058 C860 1030 910 990 935 940 C950 905 952 870 948 843" class="k" style="stroke-width:1.8"/></g>
<!-- 80_union_top.py -->
<g transform="translate(740 670) scale(0.12000)"><path d="M262 375 L300 392 L440 392 L480 375 L476 440 L440 482 L370 497 L300 482 L266 440 Z" class="b" /><path d="M300 400 L300 470 M440 400 L440 470" class="k" style="stroke:#555;stroke-width:0.8"/><path d="M278 345 L278 385 C310 410 420 410 455 385 L455 345 Z" class="w" style="stroke-width:2.4"/><ellipse cx="366" cy="345" rx="89" ry="26" transform="rotate(0 366 345)" class="w" style="stroke-width:2.6"/><path d="M292 290 L292 340 C320 362 410 362 440 340 L440 290 Z" class="w" style="stroke-width:2.4"/><ellipse cx="366" cy="292" rx="74" ry="24" transform="rotate(0 366 292)" class="w" style="stroke-width:2.6"/><path d="M305 232 L305 288 C330 308 400 308 428 288 L428 232 Z" class="w" style="stroke-width:2.4"/><ellipse cx="366" cy="235" rx="62" ry="28" transform="rotate(0 366 235)" class="w" style="stroke-width:3.6"/><ellipse cx="366" cy="240" rx="40" ry="14" transform="rotate(0 366 240)" class="k" style="stroke-width:1"/><ellipse cx="365" cy="610" rx="98" ry="58" transform="rotate(0 365 610)" class="w" style="stroke-width:4.6"/><path d="M0 620 C50 650 100 675 150 690 C190 700 230 706 266 708" class="k" style="stroke-width:1.8"/><circle cx="360" cy="712" r="8" class="b"/><path d="M445 712 L720 712 L796 720" class="k3" style="stroke-width:2.6"/></g>
<!-- 81_union_right.py -->
<g transform="translate(860 800) scale(0.14000)"><ellipse cx="160" cy="335" rx="90" ry="50" transform="rotate(-62 160 335)" class="w" style="stroke-width:3.8"/><path d="M250 350 L440 440 C480 470 470 530 430 550 L250 480 Z" class="w" style="stroke:none"/><ellipse cx="265" cy="418" rx="88" ry="52" transform="rotate(-62 265 418)" class="b" /><path d="M285 350 L330 370 M240 490 L300 515" class="k2" /><ellipse cx="318" cy="440" rx="78" ry="44" transform="rotate(-62 318 440)" class="w" style="stroke-width:2.6"/><ellipse cx="362" cy="458" rx="68" ry="40" transform="rotate(-62 362 458)" class="w" style="stroke-width:2.6"/><ellipse cx="402" cy="475" rx="62" ry="37" transform="rotate(-62 402 475)" class="w" style="stroke-width:2.6"/><path d="M395 420 L455 445 M370 530 L420 552" class="k2" style="stroke-width:2.4"/><ellipse cx="440" cy="492" rx="58" ry="34" transform="rotate(-62 440 492)" class="w" style="stroke-width:3.6"/><ellipse cx="442" cy="494" rx="36" ry="18" transform="rotate(-62 442 494)" class="k" style="stroke-width:1.2"/><ellipse cx="120" cy="760" rx="28" ry="34" transform="rotate(-20 120 760)" class="b" /><path d="M150 730 C190 728 240 740 265 750 C280 758 288 766 292 776" class="k" style="stroke-width:1.8"/><path d="M150 876 C180 895 215 905 245 905 C285 903 315 890 336 860" class="k" style="stroke-width:1.8"/><ellipse cx="265" cy="846" rx="46" ry="40" transform="rotate(-30 265 846)" class="b" /><ellipse cx="287" cy="850" rx="14" ry="24" transform="rotate(15 287 850)" class="w" style="stroke:none"/><circle cx="100" cy="826" r="7" class="b"/><circle cx="325" cy="806" r="6" class="b"/><circle cx="172" cy="40" r="8" class="b"/><circle cx="65" cy="470" r="7" class="b"/><path d="M160 116 C150 160 125 220 100 270 C85 305 70 345 62 385" class="k" style="stroke-width:1.8"/><path d="M90 545 C98 580 95 620 80 650 C60 690 30 720 0 742" class="k" style="stroke-width:1.8"/></g>
<!-- 90_lid.py -->
<g transform="translate(710 425) scale(0.12000)"><path d="M160 270 C160 180 300 95 467 95 C640 95 778 180 778 270 L778 375 C770 470 640 548 467 548 C300 548 165 470 160 375 Z" class="b" /><ellipse cx="467" cy="268" rx="292" ry="160" transform="rotate(0 467 268)" class="w" style="stroke-width:2"/><path d="M620 425 L702 395 L702 450 L625 482 Z" class="w" style="stroke:none"/><ellipse cx="467" cy="256" rx="232" ry="112" transform="rotate(0 467 256)" class="b" /><ellipse cx="467" cy="288" rx="208" ry="100" transform="rotate(0 467 288)" class="w" style="stroke-width:1.5"/><ellipse cx="467" cy="292" rx="182" ry="84" transform="rotate(0 467 292)" class="k" style="stroke-width:2.6"/><path d="M295 245 C380 215 520 205 640 240" class="k2" style="stroke-width:2.2"/><path d="M255 145 L290 112 L345 132 L348 162 L310 180 L260 168 Z" class="w" style="stroke-width:2.6"/><path d="M290 112 L295 145 L348 162 M295 145 L260 168" class="k" /><path d="M595 155 L630 122 L685 142 L688 172 L650 190 L600 178 Z" class="w" style="stroke-width:2.6"/><path d="M630 122 L635 155 L688 172 M635 155 L600 178" class="k" /><path d="M267 337 L302 304 L357 324 L360 354 L322 372 L272 360 Z" class="w" style="stroke-width:2.6"/><path d="M302 304 L307 337 L360 354 M307 337 L272 360" class="k" /><path d="M565 347 L600 314 L655 334 L658 364 L620 382 L570 370 Z" class="w" style="stroke-width:2.6"/><path d="M600 314 L605 347 L658 364 M605 347 L570 370" class="k" /><path d="M462 548 L462 833" class="k3" style="stroke-width:2.6"/><path d="M410 690 C440 695 470 702 500 700 L620 696 C660 690 700 685 735 705 C760 725 768 760 770 790" class="k" style="stroke-width:1.8"/><path d="M470 700 L620 696" class="k3" style="stroke-width:2.8"/></g>
<!-- 91_orings2.py -->
<g transform="translate(700 500) scale(0.14000)"><ellipse cx="470" cy="252" rx="216" ry="126" transform="rotate(0 470 252)" class="w" style="stroke-width:3.4"/><ellipse cx="470" cy="250" rx="195" ry="110" transform="rotate(0 470 250)" class="k" style="stroke-width:1.4"/><ellipse cx="470" cy="236" rx="60" ry="29" transform="rotate(0 470 236)" class="w" style="stroke-width:2.8"/><ellipse cx="470" cy="630" rx="210" ry="122" transform="rotate(0 470 630)" class="w" style="stroke-width:3.8"/><path d="M470 0 L470 762" class="k3" style="stroke-width:2.6"/><circle cx="345" cy="45" r="9" class="b"/><circle cx="128" cy="437" r="9" class="b"/><circle cx="295" cy="885" r="9" class="b"/><circle cx="755" cy="695" r="9" class="b"/><circle cx="737" cy="215" r="9" class="b"/><path d="M270 70 C220 100 180 130 160 152 C140 175 130 200 128 230 C126 280 122 320 118 362" class="k" style="stroke-width:1.8"/><path d="M130 215 L127 272" class="k3" style="stroke-width:3"/><path d="M135 515 C138 570 145 620 152 660 C162 720 180 790 226 852" class="k" style="stroke-width:1.8"/><path d="M370 888 C400 892 430 892 450 885 C490 870 530 845 570 820 C610 795 650 770 692 745" class="k" style="stroke-width:1.8"/><path d="M755 295 C780 350 805 410 820 460 C835 520 825 580 800 636" class="k" style="stroke-width:1.8"/><path d="M470 760 L560 812 M598 838 L702 896 L882 798 M920 776 L966 748" class="k" style="stroke-width:1.8"/><circle cx="572" cy="822" r="7" class="b"/></g>
<!-- 92_basket.py -->
<g transform="translate(840 570) scale(0.12121)"><path d="M360 440 L360 1090 C370 1160 460 1205 565 1205 C670 1205 770 1160 780 1090 L780 440 Z" class="b" /><path d="M352 1050 C352 1120 450 1180 565 1180 C680 1180 780 1120 782 1050" class="k" style="stroke:#fff;stroke-width:0.8"/><path d="M350 1045 L350 1080 M784 1045 L784 1080" class="k2" style="stroke-width:2.4"/><ellipse cx="565" cy="465" rx="222" ry="118" transform="rotate(0 565 465)" class="w" style="stroke-width:2.6"/><ellipse cx="565" cy="392" rx="226" ry="126" transform="rotate(0 565 392)" class="w" style="stroke-width:3"/><ellipse cx="565" cy="404" rx="182" ry="90" transform="rotate(0 565 404)" class="b" /><ellipse cx="565" cy="398" rx="208" ry="112" transform="rotate(0 565 398)" class="k" style="stroke-width:1"/><path d="M530 535 L640 535 L640 560 L530 560 Z" class="b" /><path d="M752 420 C775 500 775 600 760 680 C745 740 725 765 700 772" class="k" style="stroke:#fff;stroke-width:1"/><path d="M775 390 C790 470 790 600 775 690" class="k" style="stroke-width:1.6"/><path d="M612 610 L612 660" class="k" style="stroke:#fff;stroke-width:0.8"/><path d="M10 256 L62 228 M110 200 L312 86 L398 132 M420 146 L445 160 M462 170 L487 184 M505 195 L556 224 L562 232" class="k" style="stroke-width:1.8"/><path d="M562 228 L562 335" class="k3" style="stroke-width:2.6"/><path d="M565 1205 L565 1225 M565 1245 L565 1278" class="k3" style="stroke-width:2.8"/><path d="M565 1278 L480 1322" class="k" style="stroke-width:1.8"/></g>
<!-- 95_paths.py -->
<path d="M213 751.5 L243.2 769.6 M251.6 774.4 L261.2 780.4 M268.4 784.5 L278 790 M286.4 794.8 L329.6 819.3 L358.4 804.4 M366.8 799.6 L373.3 796 M381.2 791.9 L388.4 788.1 M395.6 783.5 L424.4 765.3 L431 769.8" class="k" style="stroke-width:1.8"/><path d="M140.5 600.5 L150 605.7" class="k" style="stroke-width:1.8"/>
<path d="M524.4 600.5 L561.6 617 M582 626.6 L624 645.5 M640.5 654.5 C655 663 668 672 678 680" class="k" style="stroke-width:1.8"/><circle cx="573.6" cy="623" r="1.1" class="b"/><circle cx="631.5" cy="649.1" r="1.1" class="b"/><circle cx="684" cy="683.6" r="1.1" class="b"/><circle cx="513.5" cy="595.5" r="1.1" class="b"/><path d="M499.7 739 L501 740 M517.5 751.5 L552 773.4 M573 783 L609 800.4 M631.5 811.5 L667.5 828 M687 838.5 L720 855" class="k" style="stroke-width:1.8"/><circle cx="508.5" cy="746.4" r="1.1" class="b"/><circle cx="562.5" cy="778.5" r="1.1" class="b"/><circle cx="618" cy="806.4" r="1.1" class="b"/><circle cx="678" cy="833.1" r="1.1" class="b"/><path d="M898 730.3 L884 738 M878 741 L872 744.4 M866 748 L860 751 M854 754.4 L829 770" class="k" style="stroke-width:1.8"/><path d="M856 765 C864 770 870 775 874 781 C878 786 881 790 882.5 795" class="k" style="stroke-width:1.8"/><circle cx="884" cy="805.6" r="1.2" class="b"/>
<!-- 96_smallbolts.py -->
<path d="M155 574.5 L164.5 579.7" class="k3" style="stroke-width:2.6;stroke-linecap:round"/><circle cx="155" cy="574.5" r="2.6" class="b"/><path d="M125.5 627 L135.0 632.2" class="k3" style="stroke-width:2.6;stroke-linecap:round"/><circle cx="125.5" cy="627" r="2.6" class="b"/>
<g id="labels">
<line x1="40.5" y1="451.0" x2="40.5" y2="508.0" class="ld"/><polygon points="40.5,520.0 37.7,506.0 43.3,506.0" class="ah"/>
<line x1="187.0" y1="452.0" x2="187.0" y2="467.5" class="ld"/><polygon points="187.0,479.5 184.2,465.5 189.8,465.5" class="ah"/>
<line x1="382.0" y1="429.5" x2="362.0" y2="429.5" class="ld"/><polygon points="350.0,429.5 364.0,426.7 364.0,432.3" class="ah"/>
<line x1="383.5" y1="492.0" x2="347.1" y2="513.0" class="ld"/><polygon points="335.0,520.0 347.3,509.2 350.5,514.8" class="ah"/>
<line x1="388.0" y1="555.0" x2="368.4" y2="582.7" class="ld"/><polygon points="361.5,592.5 367.3,579.5 371.9,582.7" class="ah"/>
<line x1="254.0" y1="618.0" x2="232.5" y2="579.0" class="ld"/><polygon points="226.7,568.5 235.9,579.4 231.0,582.1" class="ah"/>
<line x1="52.7" y1="658.2" x2="94.3" y2="618.8" class="ld"/><polygon points="103.0,610.5 94.8,622.2 90.9,618.1" class="ah"/>
<line x1="57.0" y1="731.2" x2="139.0" y2="731.2" class="ld"/><polygon points="151.0,731.2 137.0,734.0 137.0,728.4" class="ah"/>
<line x1="581.6" y1="481.0" x2="581.5" y2="615.0" class="ld"/><polygon points="581.5,627.0 578.7,613.0 584.3,613.0" class="ah"/>
<line x1="650.0" y1="465.0" x2="716.0" y2="465.0" class="ld"/><polygon points="728.0,465.0 714.0,467.8 714.0,462.2" class="ah"/>
<line x1="650.0" y1="537.0" x2="705.0" y2="537.0" class="ld"/><polygon points="717.0,537.0 703.0,539.8 703.0,534.2" class="ah"/>
<line x1="650.0" y1="588.7" x2="723.6" y2="588.7" class="ld"/><polygon points="735.6,588.7 721.6,591.5 721.6,585.9" class="ah"/>
<line x1="720.0" y1="651.5" x2="872.0" y2="651.5" class="ld"/><polygon points="884.0,651.5 870.0,654.3 870.0,648.7" class="ah"/>
<line x1="824.0" y1="685.0" x2="804.8" y2="692.9" class="ld"/><polygon points="792.8,697.8 805.5,689.3 807.8,694.9" class="ah"/>
<line x1="831.8" y1="694.0" x2="805.1" y2="730.3" class="ld"/><polygon points="797.4,740.8 803.9,726.9 808.7,730.5" class="ah"/>
<line x1="460.0" y1="726.5" x2="493.5" y2="691.4" class="ld"/><polygon points="502.5,682.0 494.3,694.9 490.0,690.8" class="ah"/>
<line x1="462.0" y1="729.0" x2="492.7" y2="708.3" class="ld"/><polygon points="503.5,701.0 492.7,711.9 489.4,706.9" class="ah"/>
<line x1="464.5" y1="734.0" x2="510.0" y2="721.5" class="ld"/><polygon points="522.5,718.0 508.8,724.9 507.2,719.1" class="ah"/>
<line x1="953.1" y1="819.6" x2="904.1" y2="831.8" class="ld"/><polygon points="891.5,835.0 905.3,828.5 906.8,834.3" class="ah"/>
<line x1="957.3" y1="831.5" x2="935.2" y2="852.6" class="ld"/><polygon points="925.8,861.6 934.6,849.1 938.7,853.4" class="ah"/>
<line x1="952.0" y1="918.5" x2="921.3" y2="918.7" class="ld"/><polygon points="908.3,918.8 923.3,915.7 923.3,921.7" class="ah"/>
<line x1="435.4" y1="901.0" x2="435.4" y2="793.0" class="ld"/><polygon points="435.4,781.0 438.2,795.0 432.6,795.0" class="ah"/>
<line x1="517.9" y1="901.0" x2="517.9" y2="852.0" class="ld"/><polygon points="517.9,840.0 520.7,854.0 515.1,854.0" class="ah"/>
<circle cx="40.3" cy="434.7" r="16.7" class="lc"/><g transform="translate(40.3 434.7) scale(1.08 1)"><path class="lg" d="M-4.03 7.88 L-5.97 7.88 L-5.97 -4.44 Q-6.67 -3.78 -7.80 -3.11 Q-8.93 -2.45 -9.84 -2.11 L-9.84 -3.98 Q-8.21 -4.75 -7.00 -5.83 Q-5.79 -6.92 -5.28 -7.94 L-4.03 -7.94 Z"/><path class="lg" d="M8.20 7.88 L6.26 7.88 L6.26 -4.44 Q5.56 -3.78 4.43 -3.11 Q3.30 -2.45 2.40 -2.11 L2.40 -3.98 Q4.02 -4.75 5.23 -5.83 Q6.45 -6.92 6.95 -7.94 L8.20 -7.94 Z"/></g>
<circle cx="186.8" cy="436.3" r="16.7" class="lc"/><g transform="translate(186.8 436.3) scale(1.08 1)"><path class="lg" d="M-4.03 7.88 L-5.97 7.88 L-5.97 -4.44 Q-6.67 -3.78 -7.80 -3.11 Q-8.93 -2.45 -9.84 -2.11 L-9.84 -3.98 Q-8.21 -4.75 -7.00 -5.83 Q-5.79 -6.92 -5.28 -7.94 L-4.03 -7.94 Z"/><text x="0.00" y="7.88" class="lt" font-size="22">3</text></g>
<circle cx="402.4" cy="430.2" r="20.6" class="lc"/><g transform="translate(402.4 430.2) scale(1.08 1)"><path class="lg" d="M-10.15 7.88 L-12.08 7.88 L-12.08 -4.44 Q-12.78 -3.78 -13.92 -3.11 Q-15.05 -2.45 -15.95 -2.11 L-15.95 -3.98 Q-14.33 -4.75 -13.12 -5.83 Q-11.90 -6.92 -11.40 -7.94 L-10.15 -7.94 Z"/><text x="-6.12" y="7.88" class="lt" font-size="22">4</text><text x="6.12" y="7.88" class="lt" font-size="22">b</text></g>
<circle cx="402.4" cy="481.1" r="20.6" class="lc"/><g transform="translate(402.4 481.1) scale(1.08 1)"><path class="lg" d="M-10.15 7.88 L-12.08 7.88 L-12.08 -4.44 Q-12.78 -3.78 -13.92 -3.11 Q-15.05 -2.45 -15.95 -2.11 L-15.95 -3.98 Q-14.33 -4.75 -13.12 -5.83 Q-11.90 -6.92 -11.40 -7.94 L-10.15 -7.94 Z"/><text x="-6.12" y="7.88" class="lt" font-size="22">4</text><text x="6.12" y="7.88" class="lt" font-size="22">a</text></g>
<circle cx="398.3" cy="541" r="17" class="lc"/><g transform="translate(398.3 541) scale(1.08 1)"><path class="lg" d="M-4.03 7.88 L-5.97 7.88 L-5.97 -4.44 Q-6.67 -3.78 -7.80 -3.11 Q-8.93 -2.45 -9.84 -2.11 L-9.84 -3.98 Q-8.21 -4.75 -7.00 -5.83 Q-5.79 -6.92 -5.28 -7.94 L-4.03 -7.94 Z"/><text x="0.00" y="7.88" class="lt" font-size="22">5</text></g>
<circle cx="263.9" cy="633.3" r="16.7" class="lc"/><g transform="translate(263.9 633.3) scale(1.08 1)"><path class="lg" d="M-4.03 7.88 L-5.97 7.88 L-5.97 -4.44 Q-6.67 -3.78 -7.80 -3.11 Q-8.93 -2.45 -9.84 -2.11 L-9.84 -3.98 Q-8.21 -4.75 -7.00 -5.83 Q-5.79 -6.92 -5.28 -7.94 L-4.03 -7.94 Z"/><text x="0.00" y="7.88" class="lt" font-size="22">8</text></g>
<circle cx="40.5" cy="670.5" r="16.7" class="lc"/><g transform="translate(40.5 670.5) scale(1.08 1)"><path class="lg" d="M-4.03 7.88 L-5.97 7.88 L-5.97 -4.44 Q-6.67 -3.78 -7.80 -3.11 Q-8.93 -2.45 -9.84 -2.11 L-9.84 -3.98 Q-8.21 -4.75 -7.00 -5.83 Q-5.79 -6.92 -5.28 -7.94 L-4.03 -7.94 Z"/><text x="0.00" y="7.88" class="lt" font-size="22">2</text></g>
<circle cx="40.5" cy="731.3" r="16.7" class="lc"/><g transform="translate(40.5 731.3) scale(1.08 1)"><text x="-6.12" y="7.88" class="lt" font-size="22">9</text></g>
<circle cx="581.8" cy="464.7" r="16.7" class="lc"/><g transform="translate(581.8 464.7) scale(1.08 1)"><text x="-6.12" y="7.88" class="lt" font-size="22">6</text></g>
<circle cx="632.9" cy="465" r="16.7" class="lc"/><g transform="translate(632.9 465) scale(1.08 1)"><text x="-11.62" y="7.88" class="lt" font-size="22">2</text><text x="0.62" y="7.88" class="lt" font-size="22">c</text></g>
<circle cx="632.9" cy="536.5" r="16.7" class="lc"/><g transform="translate(632.9 536.5) scale(1.08 1)"><text x="-12.23" y="7.88" class="lt" font-size="22">2</text><text x="0.00" y="7.88" class="lt" font-size="22">a</text></g>
<circle cx="632.9" cy="588.8" r="16.7" class="lc"/><g transform="translate(632.9 588.8) scale(1.08 1)"><text x="-12.23" y="7.88" class="lt" font-size="22">2</text><text x="0.00" y="7.88" class="lt" font-size="22">b</text></g>
<circle cx="703.4" cy="651.7" r="16.7" class="lc"/><g transform="translate(703.4 651.7) scale(1.08 1)"><path class="lg" d="M2.08 7.88 L0.15 7.88 L0.15 -4.44 Q-0.55 -3.78 -1.69 -3.11 Q-2.82 -2.45 -3.72 -2.11 L-3.72 -3.98 Q-2.10 -4.75 -0.88 -5.83 Q0.33 -6.92 0.83 -7.94 L2.08 -7.94 Z"/></g>
<circle cx="844.6" cy="676.4" r="21" class="lc"/><g transform="translate(844.6 676.4) scale(1.08 1)"><text x="-15.29" y="7.88" class="lt" font-size="22">3</text><text x="-3.06" y="7.88" class="lt" font-size="22">/</text><text x="3.06" y="7.88" class="lt" font-size="22">4</text></g>
<circle cx="448" cy="739" r="16.7" class="lc"/><g transform="translate(448 739) scale(1.08 1)"><path class="lg" d="M-4.03 7.88 L-5.97 7.88 L-5.97 -4.44 Q-6.67 -3.78 -7.80 -3.11 Q-8.93 -2.45 -9.84 -2.11 L-9.84 -3.98 Q-8.21 -4.75 -7.00 -5.83 Q-5.79 -6.92 -5.28 -7.94 L-4.03 -7.94 Z"/><text x="0.00" y="7.88" class="lt" font-size="22">6</text></g>
<circle cx="973.4" cy="814" r="21" class="lc"/><g transform="translate(973.4 814) scale(1.08 1)"><text x="-15.29" y="7.88" class="lt" font-size="22">3</text><text x="-3.06" y="7.88" class="lt" font-size="22">/</text><text x="3.06" y="7.88" class="lt" font-size="22">4</text></g>
<circle cx="969.2" cy="918.3" r="16.7" class="lc"/><g transform="translate(969.2 918.3) scale(1.08 1)"><text x="-6.12" y="7.88" class="lt" font-size="22">5</text></g>
<circle cx="435.4" cy="918.2" r="16.7" class="lc"/><g transform="translate(435.4 918.2) scale(1.08 1)"><text x="-6.12" y="7.88" class="lt" font-size="22">8</text></g>
<circle cx="517.9" cy="918.2" r="16.7" class="lc"/><g transform="translate(517.9 918.2) scale(1.08 1)"><text x="-6.12" y="7.88" class="lt" font-size="22">7</text></g>
</g>
</svg>
</body></html>
